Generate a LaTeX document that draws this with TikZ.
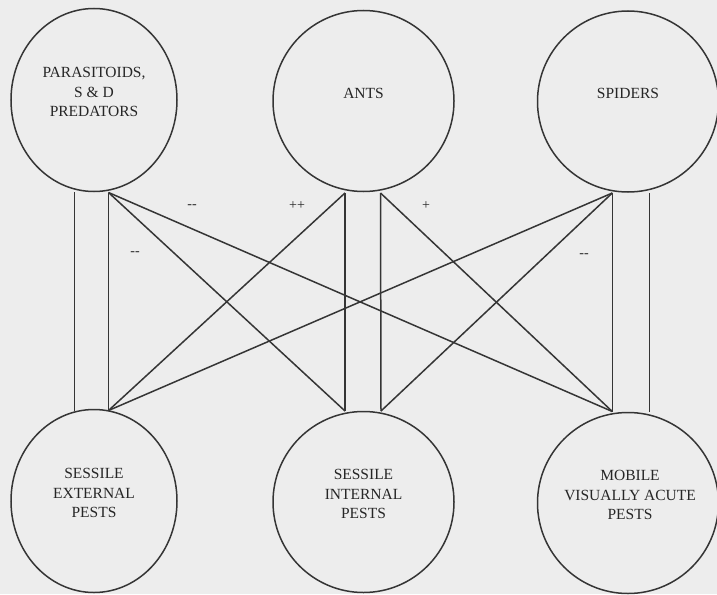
\documentclass[tikz,border=0pt]{standalone}
\usepackage{fontspec}
\setmainfont{Liberation Serif}
\usetikzlibrary{shapes.geometric}
\definecolor{paper}{HTML}{EDEDED}
\definecolor{ink}{HTML}{353535}
\definecolor{textink}{HTML}{262626}
\tikzset{
  bubble/.style={draw=ink, line width=1.5pt, circle, minimum size=181pt, inner sep=0pt},
  oval/.style={draw=ink, line width=1.5pt, ellipse, minimum width=166pt, minimum height=183pt, inner sep=0pt},
  lab/.style={align=center, text=textink, inner sep=0pt, font=\fontsize{15.5}{19.5}\selectfont},
  sign/.style={text=textink, inner sep=0pt, font=\fontsize{14}{16}\selectfont},
  link/.style={draw=ink, line width=1.5pt}
}
\begin{document}
\begin{tikzpicture}[x=1pt, y=-1pt]
\fill[paper] (0,0) rectangle (717,594);
\useasboundingbox (0,0) rectangle (717,594);
% circles
\node[oval]   (t1) at (94,100) {};
\node[bubble] (t2) at (363.5,101) {};
\node[bubble] (t3) at (628,101.5) {};
\node[oval]   (b1) at (94,501) {};
\node[bubble] (b2) at (363.5,502) {};
\node[bubble] (b3) at (628,503) {};
% texts
\node[lab] (t1x) at (94,92) {PARASITOIDS,\\S \& D\\PREDATORS};
\node[lab] (t2x) at (363.5,93) {ANTS};
\node[lab] (t3x) at (628,93) {SPIDERS};
\node[lab] (b1x) at (94,493) {SESSILE\\EXTERNAL\\PESTS};
\node[lab] (b2x) at (363.5,494) {SESSILE\\INTERNAL\\PESTS};
\node[lab] (b3x) at (630,495) {MOBILE\\VISUALLY ACUTE\\PESTS};
% connection points
\coordinate (t1l) at (74.3,192);
\coordinate (t1r) at (108.5,192.5);
\coordinate (t2l) at (345,193);
\coordinate (t2r) at (380.5,193);
\coordinate (t3l) at (612.3,193);
\coordinate (t3r) at (649.3,193);
\coordinate (b1l) at (74.3,410.5);
\coordinate (b1r) at (108.5,410.5);
\coordinate (b2l) at (345,411);
\coordinate (b2r) at (381,411);
\coordinate (b3l) at (612.3,411.5);
\coordinate (b3r) at (649.3,412);
% connectors
\draw[link] (t1l) -- (b1l);
\draw[link] (t1r) -- (b1r);
\draw[link] (t1r) -- (b2l);
\draw[link] (t1r) -- (b3l);
\draw[link] (t2l) -- (b1r);
\draw[link] (t2l) -- (b2l);
\draw[link] (t2r) -- (b2r);
\draw[link] (t2r) -- (b3l);
\draw[link] (t3l) -- (b1r);
\draw[link] (t3l) -- (b2r);
\draw[link] (t3l) -- (b3l);
\draw[link] (t3r) -- (b3r);
% signs
\node[sign] (s1) at (192,207) {-{}-};
\node[sign] (s2) at (297,206) {++};
\node[sign] (s3) at (426,205.5) {+};
\node[sign] (s4) at (584,256) {-{}-};
\node[sign] (s5) at (135,254) {-{}-};
\end{tikzpicture}
\end{document}
